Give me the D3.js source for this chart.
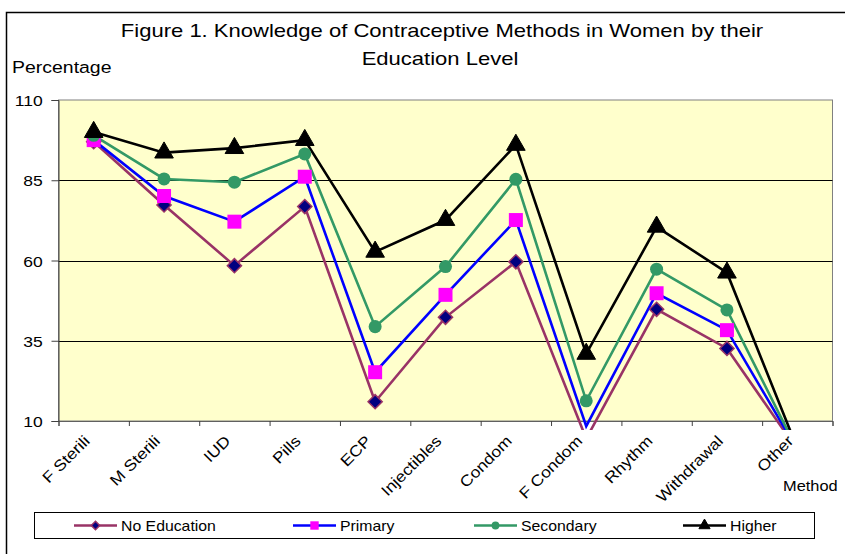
<!doctype html>
<html lang="en">
<head>
  <script src="https://cdnjs.cloudflare.com/ajax/libs/d3/7.8.5/d3.min.js"></script>
  <style type="text/css">
    body {
      padding: 0;
      margin: 0;
      background: #fff;
    }
    svg text {
      font-family: "Liberation Sans", Arial, sans-serif;
      fill: #000;
    }
  </style>
</head>
<body>
<svg id="canvas" width="845" height="554"></svg>
<script>
// data
var methods = ['F Sterili', 'M Sterili', 'IUD', 'Pills', 'ECP', 'Injectibles',
  'Condom', 'F Condom', 'Rhythm', 'Withdrawal', 'Other'];
var noEducation = [97, 77.3, 58.4, 76.8, 16, 42.3, 59.6, 4.5, 44.8, 32.6, 1];
var primary = [97.5, 80.1, 72.1, 86.1, 25.2, 49.3, 72.6, 8.4, 49.8, 38.3, 1];
var secondary = [99, 85.4, 84.4, 93.2, 39.4, 58.1, 85.3, 16.3, 57.3, 44.6, 1];
var higher = [100, 93.6, 95, 97.5, 62.7, 72.6, 96, 30.9, 70.5, 56.2, 1.5];
var yTicks = [10, 35, 60, 85, 110];
var seriesNames = ['No Education', 'Primary', 'Secondary', 'Higher'];

var width = 845, height = 554;
var plotLeft = 58.5, plotRight = 832.5, plotTop = 100, plotBottom = 421;
var SX = 1.13; // text in the picture is a bit wide

var svg = d3.select('#canvas');

function stext(x, y, str, size, anchor, rot, sx) {
  var t = 'translate(' + x + ',' + y + ')' + (rot ? ' rotate(' + rot + ')' : '') +
    ' scale(' + (sx || SX) + ',1)';
  return svg.append('text')
    .attr('transform', t)
    .attr('text-anchor', anchor || 'start')
    .style('font-size', size + 'px')
    .text(str);
}

// outer chart border (runs off the right and bottom)
svg.append('rect')
  .attr('x', 6.5).attr('y', 12.5)
  .attr('width', width + 20).attr('height', height + 20)
  .attr('fill', '#fff')
  .attr('stroke', '#000')
  .attr('stroke-width', 1.5);

var x = d3.scaleBand().domain(methods).range([plotLeft, plotRight]);
var xEdge = d3.scaleLinear().domain([0, methods.length]).range([plotLeft, plotRight]);
var y = d3.scaleLinear().domain([10, 110]).range([plotBottom, plotTop]);
function cx(d, i) { return x(methods[i]) + x.bandwidth() / 2; }

svg.append('rect')
  .attr('x', plotLeft).attr('y', plotTop)
  .attr('width', plotRight - plotLeft).attr('height', plotBottom - plotTop)
  .attr('fill', '#ffffcc')
  .attr('stroke', '#808080');

svg.append('g').selectAll('line').data([35, 60, 85]).enter().append('line')
  .attr('x1', plotLeft).attr('x2', plotRight)
  .attr('y1', function(d) { return Math.round(y(d)) + 0.5; })
  .attr('y2', function(d) { return Math.round(y(d)) + 0.5; })
  .attr('stroke', '#000');

// y axis
var yAxis = svg.append('g')
  .attr('transform', 'translate(' + plotLeft + ',0)')
  .call(d3.axisLeft(y).tickValues(yTicks).tickSize(7).tickPadding(0));
yAxis.select('.domain').attr('stroke', '#404040');
yAxis.selectAll('.tick line').attr('stroke', '#404040');
yAxis.selectAll('.tick text')
  .attr('x', -14).attr('dy', '0.36em')
  .attr('transform', 'scale(' + SX + ',1)')
  .style('font-size', '15.5px')
  .style('font-family', '"Liberation Sans", Arial, sans-serif');

// x axis, ticks between categories
var xAxis = svg.append('g')
  .attr('transform', 'translate(0,' + plotBottom + ')')
  .call(d3.axisBottom(xEdge).ticks(methods.length).tickSize(5).tickFormat(''));
xAxis.select('.domain').attr('stroke', '#606060');
xAxis.selectAll('.tick line').attr('stroke', '#404040');

methods.forEach(function(m, i) {
  stext(cx(m, i) - 3, plotBottom + 21, m, 15.5, 'end', -45);
});

// series
var series = [
  {name: seriesNames[0], values: noEducation, line: '#993366', fill: '#000080', stroke: '#993366', shape: 'diamond'},
  {name: seriesNames[1], values: primary, line: '#0000ff', fill: '#ff00ff', stroke: 'none', shape: 'square'},
  {name: seriesNames[2], values: secondary, line: '#339966', fill: '#339966', stroke: 'none', shape: 'circle'},
  {name: seriesNames[3], values: higher, line: '#000000', fill: '#000000', stroke: '#000', shape: 'triangle'}
];

svg.append('clipPath').attr('id', 'clip')
  .append('rect')
  .attr('x', plotLeft).attr('y', plotTop - 20)
  .attr('width', plotRight - plotLeft).attr('height', 430 - plotTop + 20);

function marker(g, s, scale) {
  var sym;
  if (s.shape == 'diamond') sym = d3.symbol(d3.symbolSquare, 100 * scale * scale);
  else if (s.shape == 'square') sym = d3.symbol(d3.symbolSquare, 196 * scale * scale);
  else if (s.shape == 'circle') sym = d3.symbol(d3.symbolCircle, 133 * scale * scale);
  else sym = d3.symbol(d3.symbolTriangle, 150 * scale * scale);
  return g.append('path')
    .attr('d', sym)
    .attr('fill', s.fill)
    .attr('stroke', s.stroke)
    .attr('stroke-width', s.shape == 'diamond' ? 1.5 : 1);
}

var line = d3.line()
  .x(cx)
  .y(function(d) { return y(d); });

series.forEach(function(s) {
  svg.append('path')
    .datum(s.values)
    .attr('clip-path', 'url(#clip)')
    .attr('d', line)
    .attr('fill', 'none')
    .attr('stroke', s.line)
    .attr('stroke-width', 2.6)
    .attr('stroke-linejoin', 'miter');
});

series.forEach(function(s) {
  s.values.forEach(function(v, i) {
    if (v < 10) return;
    var g = svg.append('g')
      .attr('transform', 'translate(' + cx(v, i) + ',' + y(v) + ')' +
        (s.shape == 'diamond' ? ' rotate(45)' : ''));
    marker(g, s, 1);
  });
});

// titles
stext(442, 37, 'Figure 1. Knowledge of Contraceptive Methods in Women by their', 19, 'middle', 0, 1.16);
stext(440, 65, 'Education Level', 19, 'middle', 0, 1.16);
stext(12, 73, 'Percentage', 16.5, 'start', 0, 1.18);
stext(783, 491, 'Method', 14.5, 'start');

// legend
svg.append('rect')
  .attr('x', 34.5).attr('y', 512.5)
  .attr('width', 780).attr('height', 26)
  .attr('fill', '#fff')
  .attr('stroke', '#000');

var legendX = [74, 293, 474, 683];
series.forEach(function(s, i) {
  var lx = legendX[i], ly = 525.5;
  svg.append('line')
    .attr('x1', lx).attr('x2', lx + 43)
    .attr('y1', ly).attr('y2', ly)
    .attr('stroke', s.line)
    .attr('stroke-width', 2.6);
  var g = svg.append('g')
    .attr('transform', 'translate(' + (lx + 21.5) + ',' + ly + ')' +
      (s.shape == 'diamond' ? ' rotate(45)' : ''));
  marker(g, s, 0.6);
  stext(lx + 47, ly + 5, s.name, 14, 'start');
});
</script>
</body>
</html>
